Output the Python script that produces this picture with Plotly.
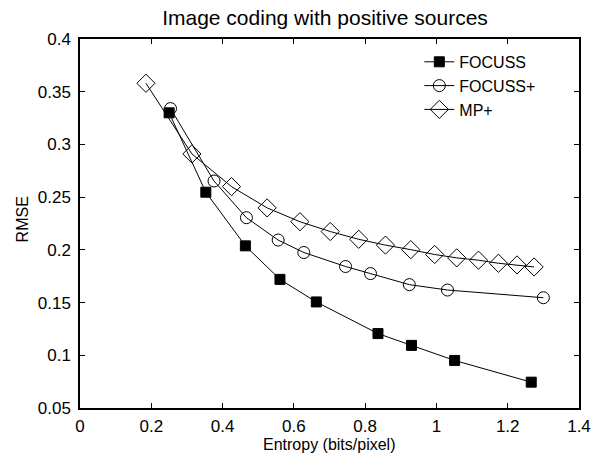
import plotly.graph_objects as go

focuss_x = [0.250, 0.353, 0.464, 0.561, 0.663, 0.836, 0.930, 1.051, 1.266]
focuss_y = [0.330, 0.2547, 0.2038, 0.172, 0.1506, 0.1206, 0.1094, 0.0951, 0.0745]

focussp_x = [0.254, 0.376, 0.467, 0.556, 0.628, 0.745, 0.815, 0.924, 1.031, 1.300]
focussp_y = [0.334, 0.2653, 0.2305, 0.2093, 0.1975, 0.1842, 0.1775, 0.167, 0.1619, 0.1546]

mp_x = [0.185, 0.314, 0.425, 0.525, 0.617, 0.702, 0.782, 0.857, 0.928, 0.995,
        1.057, 1.118, 1.174, 1.226, 1.274]
mp_y = [0.358, 0.291, 0.260, 0.2398, 0.2267, 0.2174, 0.210, 0.2045, 0.2002, 0.1956,
        0.1924, 0.1902, 0.1873, 0.1857, 0.1838]

x_ticks = [0, 0.2, 0.4, 0.6, 0.8, 1, 1.2, 1.4]
x_labels = ["0", "0.2", "0.4", "0.6", "0.8", "1", "1.2", "1.4"]
y_ticks = [0.05, 0.1, 0.15, 0.2, 0.25, 0.3, 0.35, 0.4]
y_labels = ["0.05", "0.1", "0.15", "0.2", "0.25", "0.3", "0.35", "0.4"]

FONT = "Liberation Sans, Arial, Helvetica, sans-serif"

fig = go.Figure()
fig.add_trace(go.Scatter(
    x=focuss_x, y=focuss_y, mode="lines+markers", name="FOCUSS",
    line=dict(color="black", width=1),
    marker=dict(symbol="square", size=10, color="black", line=dict(color="black", width=1))))
fig.add_trace(go.Scatter(
    x=focussp_x, y=focussp_y, mode="lines+markers", name="FOCUSS+",
    line=dict(color="black", width=1),
    marker=dict(symbol="circle-open", size=12, color="black", line=dict(color="black", width=1))))
fig.add_trace(go.Scatter(
    x=mp_x, y=mp_y, mode="lines+markers", name="MP+",
    line=dict(color="black", width=1),
    marker=dict(symbol="diamond-open", size=14, color="black", line=dict(color="black", width=1))))

axis_common = dict(
    showline=True, linecolor="black", linewidth=1.5, mirror="ticks",
    ticks="inside", ticklen=5, tickcolor="black", tickwidth=1,
    showgrid=False, zeroline=False, automargin=False,
    tickfont=dict(family=FONT, size=17, color="black"),
)

fig.update_xaxes(range=[0, 1.4], tickvals=x_ticks, ticktext=x_labels,
                 ticklabelstandoff=2, **axis_common)
fig.update_yaxes(range=[0.05, 0.4], tickvals=y_ticks, ticktext=y_labels,
                 ticklabelstandoff=4, **axis_common)

fig.update_layout(
    width=592, height=457,
    margin=dict(l=80, r=13, t=39, b=49),
    paper_bgcolor="white", plot_bgcolor="white",
    title=dict(text="Image coding with positive sources", x=0.549, xanchor="center",
               yref="container", y=0.962, yanchor="middle",
               font=dict(family=FONT, size=21, color="black")),
    legend=dict(x=0.68, y=0.984, xanchor="left", yanchor="top",
                bgcolor="rgba(255,255,255,0)", borderwidth=0,
                font=dict(family=FONT, size=16, color="black"),
                tracegroupgap=0),
    showlegend=True,
    annotations=[
        dict(text="Entropy (bits/pixel)", xref="paper", yref="paper",
             x=0.5, y=-0.098, xanchor="center", yanchor="middle", showarrow=False,
             font=dict(family=FONT, size=16, color="black")),
        dict(text="RMSE", xref="paper", yref="paper", textangle=-90,
             x=-0.115, y=0.51, xanchor="center", yanchor="middle", showarrow=False,
             font=dict(family=FONT, size=16, color="black")),
    ],
)

# Remove the browser's default 8px body margin so the figure fills the window exactly,
# and hide the hover toolbar.
fig.write_html("out.html", config={"displayModeBar": False},
               post_script="document.body.style.margin='0';")
